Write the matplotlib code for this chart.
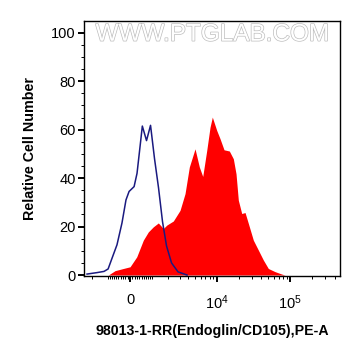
import numpy as np
import matplotlib
matplotlib.use("Agg")
import matplotlib.pyplot as plt
import matplotlib.patheffects as pe

plt.rcParams['font.family'] = ['Liberation Sans', 'DejaVu Sans']
plt.rcParams['mathtext.fontset'] = 'custom'
plt.rcParams['mathtext.rm'] = 'Liberation Sans'
plt.rcParams['mathtext.it'] = 'Liberation Sans'

# isotype control (blue outline), intensity vs relative cell number
ctrl_x = [-2390, -1640, -1210, -990, -790, -560, -340, -170, -40, 170, 295, 425,
          527, 720, 917, 1127, 1355, 1604, 1879, 2264, 2848, 3858]
ctrl_y = [0.4, 1.0, 1.5, 2.5, 7.0, 12.5, 21.5, 31.0, 34.5, 36.5, 42.0, 53.0,
          61.5, 55.5, 61.8, 48.0, 36.0, 22.0, 12.0, 5.0, 1.3, 0.0]

# stained sample (red filled)
stain_x = [-978, -650, -282, 0, 282, 572, 807, 1062, 1343, 1657, 1893, 2415,
           3050, 3610, 4161, 5010, 5754, 6416, 7285, 8090, 8701, 9997, 11090,
           12580, 14860, 16850, 18330, 19700, 21910, 24310, 26950, 31500,
           36840, 43060, 50340, 62060, 76530, 84830]
stain_y = [0.0, 1.8, 2.7, 3.4, 7.5, 14.4, 17.8, 19.9, 21.5, 19.2, 20.6, 22.3,
           26.7, 33.6, 44.6, 52.1, 44.6, 40.7, 51.4, 61.0, 65.2, 59.7, 56.3,
           51.7, 51.2, 48.0, 41.8, 30.9, 25.4, 25.8, 21.3, 14.4, 10.3, 6.2,
           2.7, 1.4, 0.4, 0.0]

x_major = [0, 1e4, 1e5]
x_major_labels = ['0', '$10^4$', '$10^5$']
x_minor = ([-2000] + list(range(-1000, 0, 100)) + list(range(100, 1001, 100))
           + list(range(2000, 10000, 1000)) + list(range(20000, 100000, 10000))
           + [200000, 300000, 400000])

W = 1338.0


def fwd(x):
    return np.arcsinh(np.asarray(x) / W) / np.log(10)


def inv(d):
    return W * np.sinh(np.asarray(d) * np.log(10))


fig = plt.figure(figsize=(3.61, 3.56), dpi=100)
ax = fig.add_axes([84 / 361, 1 - 276 / 356, 256 / 361, 255.3 / 356])
ax.set_xscale('function', functions=(fwd, inv))

ax.fill_between(stain_x, stain_y, 0, color='#ff0000', linewidth=0, zorder=2)
ax.plot(ctrl_x, ctrl_y, color='#1a1a80', linewidth=1.1, zorder=3)

ax.set_xlim(-2660, 472600)
ax.set_ylim(-0.4, 105)

ax.set_xticks(x_major)
ax.set_xticklabels(x_major_labels)
ax.set_xticks(x_minor, minor=True)
ax.set_yticks([0, 20, 40, 60, 80, 100])
ax.set_yticks(np.arange(0, 101, 5), minor=True)

ax.tick_params(axis='both', which='major', direction='out', length=4.5, width=1.4,
               labelsize=10.5, color='black')
ax.tick_params(axis='both', which='minor', direction='out', length=2.5, width=0.7)
ax.tick_params(axis='x', which='major', pad=8)
ax.tick_params(axis='y', which='major', pad=1.5)
for s in ax.spines.values():
    s.set_linewidth(1.0)
    s.set_color('black')

ax.set_ylabel('Relative Cell Number', fontsize=10.3, fontweight='bold', labelpad=10)
ax.set_xlabel('98013-1-RR(Endoglin/CD105),PE-A', fontsize=10.2, fontweight='bold',
              labelpad=9)

ax.text(0.5, 0.945, 'WWW.PTGLAB.COM', transform=ax.transAxes, ha='center', va='center',
        fontsize=17.5, color='white', zorder=4,
        path_effects=[pe.Stroke(linewidth=1.0, foreground='#bdbdbd'), pe.Normal()])

fig.savefig('out.png', dpi=100)
